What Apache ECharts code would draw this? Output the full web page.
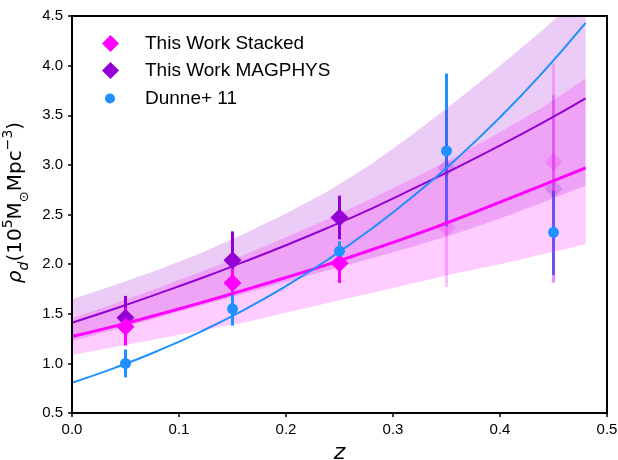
<!DOCTYPE html>
<html>
<head>
<meta charset="utf-8">
<title>Dust mass density vs redshift</title>
<script src="https://cdn.jsdelivr.net/npm/echarts/dist/echarts.min.js"></script>
<style>
  html, body { margin: 0; padding: 0; background: #fff; }
</style>
</head>
<body>
<div id="chart" style="width: 618px; height: 460px;"></div>
<script>
// redshift grid used for fitted curves and bands
var zGrid = [0, 0.04, 0.08, 0.12, 0.16, 0.20, 0.24, 0.28, 0.32, 0.36, 0.40, 0.44, 0.48];

// fitted curves
var stackedFit = [1.27, 1.375, 1.49, 1.61, 1.735, 1.865, 2.0, 2.145, 2.295, 2.455, 2.625, 2.795, 2.97];
var magphysFit = [1.41, 1.55, 1.70, 1.855, 2.02, 2.19, 2.37, 2.56, 2.765, 2.975, 3.195, 3.425, 3.67];
var dunneFit = [0.805, 0.955, 1.125, 1.318, 1.535, 1.779, 2.052, 2.356, 2.693, 3.067, 3.479, 3.932, 4.43];

// uncertainty bands
var magphysUpper = [1.645, 1.79, 1.94, 2.11, 2.30, 2.51, 2.74, 3.01, 3.32, 3.65, 4.00, 4.36, 4.75];
var magphysLower = [1.225, 1.34, 1.46, 1.58, 1.70, 1.82, 1.94, 2.06, 2.18, 2.31, 2.46, 2.62, 2.79];
var stackedUpper = [1.455, 1.60, 1.76, 1.92, 2.09, 2.27, 2.46, 2.66, 2.87, 3.09, 3.33, 3.58, 3.87];
var stackedLower = [1.085, 1.165, 1.245, 1.33, 1.41, 1.51, 1.61, 1.71, 1.81, 1.91, 2.00, 2.10, 2.20];

// binned measurements (first 3 bins solid, last 2 faded)
var zBins = [0.05, 0.15, 0.25, 0.35, 0.45];
var stackedVal = [1.37, 1.81, 2.01, 2.37, 3.03];
var stackedLo  = [1.18, 1.58, 1.81, 1.77, 1.81];
var stackedHi  = [1.56, 2.04, 2.21, 2.97, 4.02];
var magphysVal = [1.46, 2.04, 2.47, 2.97, 2.76];
var magphysLo  = [1.24, 1.75, 2.25, 2.40, 1.82];
var magphysHi  = [1.68, 2.33, 2.69, 3.55, 3.70];
var dunneVal = [1.0, 1.55, 2.13, 3.14, 2.32];
var dunneLo  = [0.86, 1.38, 2.03, 2.38, 1.89];
var dunneHi  = [1.14, 1.72, 2.23, 3.92, 2.74];

var MAGENTA = '#ff00ff', VIOLET = '#9400d3', BLUE = '#1e90ff';
var FONT = 'Liberation Sans';
var MATH = 'DejaVu Sans';

function pairs(xs, ys) {
    return xs.map(function (x, i) { return [x, ys[i]]; });
}
function rows(from, to, v, lo, hi) {
    var out = [];
    for (var i = from; i < to; i++) out.push([zBins[i], v[i], lo[i], hi[i]]);
    return out;
}

function bandSeries(lower, upper, color) {
    return {
        type: 'custom',
        silent: true,
        data: [[zGrid[0], lower[0]]],
        encode: { x: 0, y: 1 },
        renderItem: function (params, api) {
            var pts = [];
            for (var i = 0; i < zGrid.length; i++) pts.push(api.coord([zGrid[i], upper[i]]));
            for (var j = zGrid.length - 1; j >= 0; j--) pts.push(api.coord([zGrid[j], lower[j]]));
            var cs = params.coordSys;
            return {
                type: 'polygon',
                shape: { points: pts },
                style: { fill: color },
                clipPath: { type: 'rect', shape: { x: cs.x, y: cs.y, width: cs.width, height: cs.height } }
            };
        }
    };
}

function errSeries(data, color) {
    return {
        type: 'custom',
        silent: true,
        data: data,
        encode: { x: 0, y: [2, 3] },
        renderItem: function (params, api) {
            var a = api.coord([api.value(0), api.value(2)]);
            var b = api.coord([api.value(0), api.value(3)]);
            return {
                type: 'line',
                shape: { x1: a[0], y1: a[1], x2: b[0], y2: b[1] },
                style: { stroke: color, lineWidth: 3 }
            };
        }
    };
}

function fitSeries(ys, color, width) {
    return {
        type: 'line',
        data: pairs(zGrid, ys),
        smooth: true,
        showSymbol: false,
        silent: true,
        lineStyle: { color: color, width: width }
    };
}

function pointSeries(name, data, symbol, size, color, opacity) {
    return {
        name: name,
        type: 'scatter',
        data: data.map(function (r) { return [r[0], r[1]]; }),
        symbol: symbol,
        symbolSize: size,
        itemStyle: { color: color, opacity: opacity }
    };
}

var fadedMagenta = 'rgba(255,0,255,0.25)';
var fadedViolet = 'rgba(148,0,211,0.25)';

var option = {
    animation: false,
    backgroundColor: '#fff',
    grid: { left: 72, right: 11, top: 16, bottom: 47, outerBoundsMode: 'none', containLabel: false },
    legend: [{
        orient: 'vertical', left: 102, top: 34, padding: 0,
        itemWidth: 17, itemHeight: 17, itemGap: 8,
        selectedMode: false,
        data: ['This Work Stacked', 'This Work MAGPHYS'],
        textStyle: { fontFamily: FONT, fontSize: 19, color: '#000', padding: [0, 0, 0, 21] }
    }, {
        orient: 'vertical', left: 105, top: 89, padding: 0,
        itemWidth: 10, itemHeight: 10,
        selectedMode: false,
        data: ['Dunne+ 11'],
        textStyle: { fontFamily: FONT, fontSize: 19, color: '#000', padding: [0, 0, 0, 25] }
    }],
    xAxis: [{
        type: 'value', min: 0, max: 0.5, interval: 0.1, z: 10,
        name: 'z', nameLocation: 'middle', nameGap: 14,
        nameTextStyle: { fontFamily: MATH, fontStyle: 'italic', fontSize: 22, color: '#000' },
        axisLine: { show: true, lineStyle: { color: '#000', width: 2 } },
        axisTick: { show: true, length: 4, lineStyle: { color: '#000', width: 1.5 } },
        axisLabel: { fontFamily: FONT, fontSize: 15, color: '#000', margin: 9,
            formatter: function (v) { return v.toFixed(1); } },
        splitLine: { show: false }
    }, {
        type: 'value', min: 0, max: 0.5, position: 'top', z: 10,
        axisLine: { show: true, onZero: false, lineStyle: { color: '#000', width: 2 } },
        axisTick: { show: false }, axisLabel: { show: false }, splitLine: { show: false }
    }],
    yAxis: [{
        type: 'value', min: 0.5, max: 4.5, interval: 0.5, z: 10,
        name: '{i|ρ}{isub|d}{n|(10}{sup|5}{n|M}{sub|⊙}{n|Mpc}{sup|−3}{n|)}',
        nameLocation: 'middle', nameRotate: 90, nameGap: 37,
        nameTextStyle: {
            color: '#000',
            padding: [0, 0, 0, 24],
            rich: {
                i: { fontFamily: MATH, fontStyle: 'italic', fontSize: 20, lineHeight: 30, color: '#000' },
                isub: { fontFamily: MATH, fontStyle: 'italic', fontSize: 14, lineHeight: 30, verticalAlign: 'bottom', color: '#000' },
                n: { fontFamily: MATH, fontSize: 20, lineHeight: 30, color: '#000' },
                sup: { fontFamily: MATH, fontSize: 14, lineHeight: 30, verticalAlign: 'top', color: '#000' },
                sub: { fontFamily: MATH, fontSize: 13, lineHeight: 30, verticalAlign: 'bottom', color: '#000' }
            }
        },
        axisLine: { show: true, lineStyle: { color: '#000', width: 2 } },
        axisTick: { show: true, length: 4, lineStyle: { color: '#000', width: 1.5 } },
        axisLabel: { fontFamily: FONT, fontSize: 15, color: '#000', margin: 9,
            formatter: function (v) { return v.toFixed(1); } },
        splitLine: { show: false }
    }, {
        type: 'value', min: 0.5, max: 4.5, position: 'right', z: 10,
        axisLine: { show: true, onZero: false, lineStyle: { color: '#000', width: 2 } },
        axisTick: { show: false }, axisLabel: { show: false }, splitLine: { show: false }
    }],
    series: [
        bandSeries(magphysLower, magphysUpper, 'rgba(148,0,211,0.2)'),
        bandSeries(stackedLower, stackedUpper, 'rgba(255,0,255,0.2)'),
        fitSeries(magphysFit, VIOLET, 2),
        fitSeries(stackedFit, MAGENTA, 3),
        fitSeries(dunneFit, BLUE, 2),
        errSeries(rows(0, 3, magphysVal, magphysLo, magphysHi), VIOLET),
        pointSeries('This Work MAGPHYS', rows(0, 3, magphysVal, magphysLo, magphysHi), 'diamond', 18, VIOLET, 1),
        errSeries(rows(0, 3, stackedVal, stackedLo, stackedHi), MAGENTA),
        pointSeries('This Work Stacked', rows(0, 3, stackedVal, stackedLo, stackedHi), 'diamond', 18, MAGENTA, 1),
        errSeries(rows(0, 5, dunneVal, dunneLo, dunneHi), BLUE),
        pointSeries('Dunne+ 11', rows(0, 5, dunneVal, dunneLo, dunneHi), 'circle', 11, BLUE, 1),
        errSeries(rows(3, 5, magphysVal, magphysLo, magphysHi), fadedViolet),
        pointSeries('MAGPHYS faded', rows(3, 5, magphysVal, magphysLo, magphysHi), 'diamond', 18, VIOLET, 0.2),
        errSeries(rows(3, 5, stackedVal, stackedLo, stackedHi), fadedMagenta),
        pointSeries('Stacked faded', rows(3, 5, stackedVal, stackedLo, stackedHi), 'diamond', 18, MAGENTA, 0.2)
    ]
};

var chart = echarts.init(document.getElementById('chart'));
chart.setOption(option);
</script>
</body>
</html>
